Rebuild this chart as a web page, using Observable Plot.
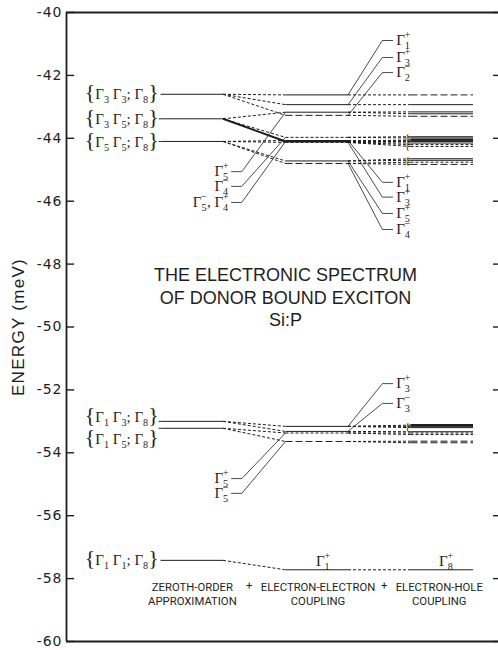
<!DOCTYPE html>
<html><head><meta charset="utf-8">
<script src="https://cdn.jsdelivr.net/npm/d3@7"></script>
<script src="https://cdn.jsdelivr.net/npm/@observablehq/plot@0.6"></script>
<style>
html,body{margin:0;padding:0;background:#fff;}
#chart svg{display:block;}
</style></head><body><div id="chart"></div>
<script>
// ---------------- data (energies in meV) ----------------
const yTicks = [-60,-58,-56,-54,-52,-50,-48,-46,-44,-42,-40];

// zeroth-order approximation levels
const zeroLabel = ["{Γ3 Γ3; Γ8}","{Γ3 Γ5; Γ8}","{Γ5 Γ5; Γ8}","{Γ1 Γ3; Γ8}","{Γ1 Γ5; Γ8}","{Γ1 Γ1; Γ8}"];
const zeroE     = [-42.6, -43.38, -44.1, -53.0, -53.22, -57.42];
const zeroTagE  = [-42.6, -43.4, -44.12, -52.88, -53.58, -57.42];

// + electron-electron coupling levels
const eeName = ["Γ1+","Γ3+","Γ2-","Γ5+","Γ4-","Γ5-, Γ4+","Γ1+","Γ3+","Γ5+","Γ4-","Γ3+","Γ3-","Γ5+","Γ5-","Γ1+"];
const eeE    = [-42.62,-42.93,-43.27,-43.17,-43.97,-44.10,-44.07,-44.13,-44.72,-44.80,-53.16,-53.32,-53.37,-53.64,-57.72];
const eeFrom = [0,0,0,1,1,1,2,2,2,2,3,3,4,4,5];
const eeFan  = ["short","short","short","short","short","heavy","short","short","short","short","short","short","short","short","short"];
const eeLine = ["solid","solid","long","solid","short","heavy","solid","short","solid","long","solid","solid","short","long","solid"];
const eeSide = ["right","right","right","left","left","left","right","right","right","right","right","right","left","left","above"];
const eeTagE = [-40.89,-41.43,-41.91,-45.06,-45.53,-46.04,-45.40,-45.87,-46.39,-46.90,-51.80,-52.43,-54.82,-55.29,-57.45];

// + electron-hole coupling levels
const ehE    = [-42.62,-42.93,-43.30,-43.16,-43.22,-43.95,-43.99,-44.05,-44.10,-44.08,-44.15,-44.20,-44.26,-44.65,-44.70,-44.76,-44.83,-53.12,-53.16,-53.20,-53.33,-53.37,-53.42,-53.63,-53.68,-57.72];
const ehFrom = [0,1,2,3,3,4,4,5,5,6,7,7,7,8,8,9,9,10,10,10,11,12,12,13,13,14];
const ehLine = ["long","solid","long","solid","solid","solid","solid","heavy","solid","solid","solid","short","short","solid","solid","short","long","heavy","solid","solid","solid","short","short","long","long","solid"];
const ehTagName = ["Γ8+"];
const ehTagE    = [-57.45];
const bracketE  = [-43.97, -44.22, -44.72, -53.16];

const stageName = ["ZEROTH-ORDER\nAPPROXIMATION","ELECTRON-ELECTRON\nCOUPLING","ELECTRON-HOLE\nCOUPLING"];
const titleText = "THE ELECTRONIC SPECTRUM\nOF DONOR BOUND EXCITON\nSi:P";
const yLabel = "ENERGY (meV)";

// ---------------- layout (stage columns in x units) ----------------
const XMIN = -1.504, XMAX = 5.408;
const col = [[0,1],[2,3],[4,5]];
const ink = "#1e1e1e";

const segs = [];
zeroE.forEach((e, i) => {
  if (zeroTagE[i] !== e) segs.push({x1: -0.03, y1: e, x2: col[0][0], y2: e, k: "solid"});
  segs.push({x1: col[0][0], y1: e, x2: col[0][1], y2: e, k: "solid"});
});
eeE.forEach((e, i) => {
  segs.push({x1: col[0][1], y1: zeroE[eeFrom[i]], x2: col[1][0], y2: e, k: eeFan[i]});
  segs.push({x1: col[1][0], y1: e, x2: col[1][1], y2: e, k: eeLine[i]});
});
ehE.forEach((e, i) => {
  segs.push({x1: col[1][1], y1: eeE[ehFrom[i]], x2: col[2][0], y2: e, k: "short"});
  segs.push({x1: col[2][0], y1: e, x2: col[2][1], y2: e, k: ehLine[i]});
});
const tags = eeE.map((e, i) => ({name: eeName[i], e, te: eeTagE[i], side: eeSide[i]}));
tags.forEach(t => {
  if (t.side === "right") {
    segs.push({x1: col[1][1], y1: t.e, x2: 3.55, y2: t.te, k: "lead"});
    segs.push({x1: 3.55, y1: t.te, x2: 3.72, y2: t.te, k: "lead"});
  } else if (t.side === "left") {
    segs.push({x1: col[1][0], y1: t.e, x2: 1.3, y2: t.te, k: "lead"});
    segs.push({x1: 1.3, y1: t.te, x2: 1.13, y2: t.te, k: "lead"});
  }
});
const kinds = {
  solid: {strokeWidth: 1, strokeDasharray: null},
  heavy: {strokeWidth: 2, strokeDasharray: null},
  short: {strokeWidth: 1, strokeDasharray: "3,2"},
  long:  {strokeWidth: 1, strokeDasharray: "7,3"},
  lead:  {strokeWidth: 0.8, strokeDasharray: null}
};
const linkMarks = Object.entries(kinds).map(([k, s]) =>
  Plot.link(segs.filter(d => d.k === k), {x1: "x1", y1: "y1", x2: "x2", y2: "y2", stroke: ink, ...s}));

const gam = {fontFamily: "Liberation Serif", fontSize: 15, fill: ink, ariaDescription: "gamma"};
const zeroRows = zeroLabel.map((l, i) => ({label: l, te: zeroTagE[i]}));
const ehTags = ehTagName.map((n, i) => ({name: n, te: ehTagE[i]}));

const chart = Plot.plot({
  width: 498, height: 650,
  marginLeft: 66, marginRight: 0, marginTop: 12, marginBottom: 9,
  x: {domain: [XMIN, XMAX], axis: null},
  y: {domain: [-60, -40], axis: null},
  style: {fontFamily: "Liberation Sans", background: "#fff", color: ink},
  marks: [
    // frame
    Plot.ruleY([-40, -60], {x1: () => XMIN, x2: () => XMAX, stroke: ink, strokeWidth: 1.8}),
    Plot.ruleX([XMIN], {y1: () => -60, y2: () => -40, stroke: ink, strokeWidth: 1.8}),
    Plot.ruleY(yTicks, {x1: () => XMIN, x2: () => XMIN + 0.13, stroke: ink, strokeWidth: 1.4}),
    Plot.ruleY(yTicks, {x1: () => XMAX - 0.08, x2: () => XMAX, stroke: ink, strokeWidth: 1.4}),
    Plot.axisY({ticks: yTicks, tickSize: 0, tickPadding: 4, tickFormat: d => "-" + Math.abs(d),
      fontSize: 14, fontFamily: "DejaVu Sans", label: null, fill: ink}),
    Plot.text([yLabel], {x: () => -2.27, y: () => -50.0, text: d => d, rotate: -90, fontSize: 17,
      fontFamily: "Liberation Sans", fill: ink, ariaDescription: "ylabel"}),
    ...linkMarks,
    Plot.text(bracketE, {x: () => 3.95, y: d => d, text: () => "{", fontSize: 11, fontFamily: "Liberation Serif", fill: ink}),
    // level labels
    Plot.text(zeroRows, {x: () => -0.03, y: "te", text: "label", textAnchor: "end", ...gam}),
    Plot.text(tags.filter(t => t.side === "right"), {x: () => 3.77, y: "te", text: "name", textAnchor: "start", ...gam}),
    Plot.text(tags.filter(t => t.side === "left"), {x: () => 1.09, y: "te", text: "name", textAnchor: "end", ...gam}),
    Plot.text(tags.filter(t => t.side === "above"), {x: () => 2.6, y: "te", text: "name", textAnchor: "middle", ...gam}),
    Plot.text(ehTags, {x: () => 4.57, y: "te", text: "name", textAnchor: "middle", ...gam}),
    // title
    Plot.text([titleText], {x: () => 2.0, y: () => -48.04, text: d => d, lineAnchor: "top", lineHeight: 1.25,
      fontSize: 18, fontFamily: "Liberation Sans", fill: ink}),
    // stage captions
    Plot.text(stageName, {x: (d, i) => [0.51, 2.52, 4.46][i], y: () => -58.09, text: d => d, lineAnchor: "top",
      lineHeight: 1.24, fontSize: 11.3, fontFamily: "Roboto", fill: ink}),
    Plot.text(["+", "+"], {x: (d, i) => [1.42, 3.58][i], y: () => -58.09, text: d => d, lineAnchor: "top",
      fontSize: 11.3, fontFamily: "Roboto", fill: ink})
  ]
});

// rich Γ labels: subscript digit with stacked superscript sign
const NS = "http://www.w3.org/2000/svg";
chart.querySelectorAll('g[aria-description="gamma"] text').forEach(t => {
  const s = t.textContent;
  while (t.firstChild) t.removeChild(t.firstChild);
  let shift = 0;
  const add = (str, attrs) => {
    const ts = document.createElementNS(NS, "tspan");
    ts.textContent = str;
    for (const k in attrs) ts.setAttribute(k, attrs[k]);
    t.appendChild(ts);
  };
  const re = /Γ(\d)([+-])?|([{}])|([^Γ{}]+)/g;
  let m;
  while ((m = re.exec(s))) {
    if (m[1]) {
      add("Γ", shift ? {dy: -shift} : {}); shift = 0;
      add(m[1], {dy: 4, "font-size": "0.68em"}); shift = 4;
      if (m[2]) { add(m[2] === "-" ? "−" : "+", {dx: -5.5, dy: -11, "font-size": "0.7em"}); shift = -7; }
    } else if (m[3]) {
      add(m[3], Object.assign({"font-size": "1.45em", "font-weight": "lighter"}, shift ? {dy: -shift} : {})); shift = 0;
    } else {
      add(m[4], shift ? {dy: -shift} : {}); shift = 0;
    }
  }
});
chart.querySelectorAll('g[aria-description="ylabel"] text').forEach(t => t.style.letterSpacing = "1.3px");
chart.querySelectorAll('g[aria-label="y-axis tick label"] text').forEach(t => t.style.letterSpacing = "1px");

document.getElementById("chart").appendChild(chart);
</script>
</body></html>
